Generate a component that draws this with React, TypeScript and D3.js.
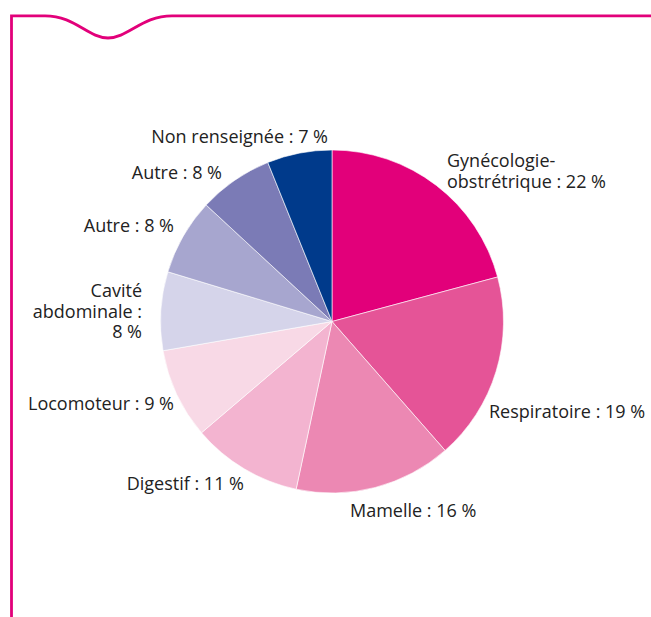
import React from "react";
import * as d3 from "d3";

// Répartition des localisations
const categories = [
  "Gynécologie-obstrétrique",
  "Respiratoire",
  "Mamelle",
  "Digestif",
  "Locomoteur",
  "Cavité abdominale",
  "Autre",
  "Autre",
  "Non renseignée",
];
const shares = [20.8, 17.7, 14.8, 10.4, 8.5, 7.4, 7.2, 7.0, 6.1];
// pourcentages affichés
const labelLines = [
  ["Gynécologie-", "obstrétrique : 22 %"],
  ["Respiratoire : 19 %"],
  ["Mamelle : 16 %"],
  ["Digestif : 11 %"],
  ["Locomoteur : 9 %"],
  ["Cavité", "abdominale :", "8 %"],
  ["Autre : 8 %"],
  ["Autre : 8 %"],
  ["Non renseignée : 7 %"],
];

const colors = [
  "#E2007A",
  "#E55497",
  "#EC88B3",
  "#F3B4D0",
  "#F8D9E6",
  "#D5D4EA",
  "#A7A6CF",
  "#7B7BB6",
  "#003A8B",
];

// placement des étiquettes (ancre + position)
const labelLayout: { x: number; y: number; anchor: string }[] = [
  { x: 447, y: 167, anchor: "start" },
  { x: 489, y: 418, anchor: "start" },
  { x: 350, y: 517, anchor: "start" },
  { x: 244, y: 490, anchor: "end" },
  { x: 174, y: 410, anchor: "end" },
  { x: 142, y: 297, anchor: "end" },
  { x: 174, y: 232, anchor: "end" },
  { x: 222, y: 179, anchor: "end" },
  { x: 328, y: 143, anchor: "end" },
];

const W = 651;
const H = 617;
const cx = 332;
const cy = 321.5;
const radius = 171.5;
const accent = "#E2007A";

export default function App() {
  const pie = d3
    .pie<number>()
    .sort(null)
    .value((d) => d);
  const arcs = pie(shares);
  const arc = d3.arc<d3.PieArcDatum<number>>().innerRadius(0).outerRadius(radius);

  // cadre avec la vague en haut à gauche
  const frame = d3.path();
  frame.moveTo(11.5, H);
  frame.lineTo(11.5, 15.8);
  frame.lineTo(45, 15.8);
  frame.bezierCurveTo(75, 15.8, 88, 38, 108, 38);
  frame.bezierCurveTo(128, 38, 142, 15.8, 172, 15.8);
  frame.lineTo(W, 15.8);

  return (
    <svg
      width={W}
      height={H}
      style={{ position: "absolute", left: 0, top: 0, background: "#fff" }}
    >
      <path d={frame.toString()} fill="none" stroke={accent} strokeWidth={2.8} />
      <g transform={`translate(${cx},${cy})`}>
        {arcs.map((a, i) => (
          <path
            key={categories[i] + i}
            d={arc(a) || ""}
            fill={colors[i]}
            stroke="#fff"
            strokeWidth={0.6}
          />
        ))}
      </g>
      <g fontFamily="'Open Sans', sans-serif" fontSize={18} fill="#222">
        {labelLines.map((lines, i) =>
          lines.map((l, j) => (
            <text
              key={`${i}-${j}`}
              x={labelLayout[i].x}
              y={labelLayout[i].y + j * 20.5}
              textAnchor={labelLayout[i].anchor}
            >
              {l}
            </text>
          ))
        )}
      </g>
    </svg>
  );
}
